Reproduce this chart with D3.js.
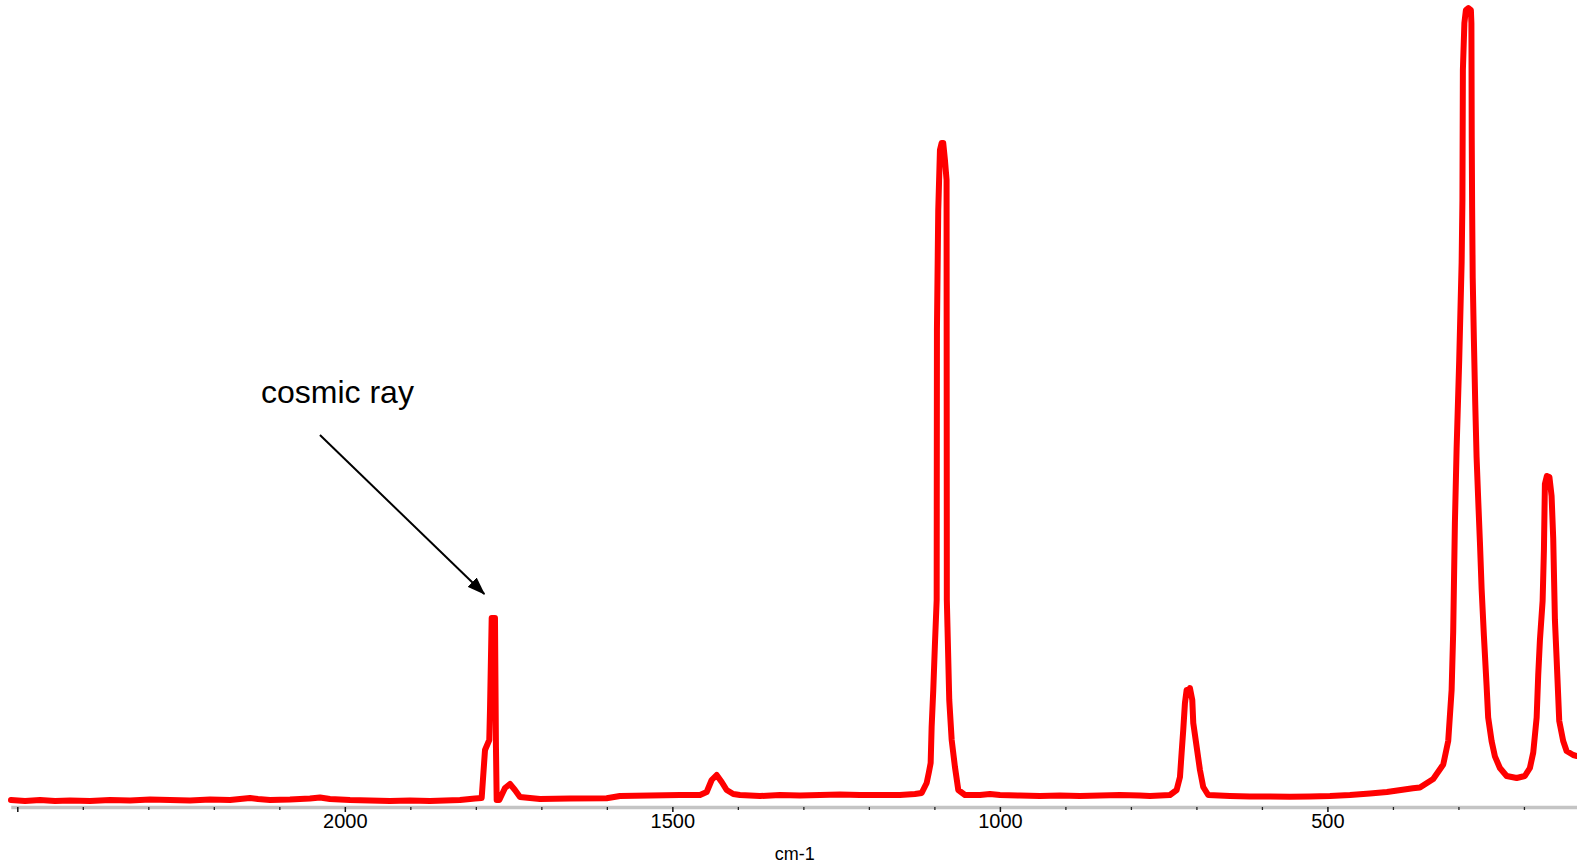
<!DOCTYPE html>
<html>
<head>
<meta charset="utf-8">
<script src="https://cdn.jsdelivr.net/npm/d3@7"></script>
<style>
  body { margin: 0; background: #fff; }
  svg { display: block; font-family: "Liberation Sans", Arial, sans-serif; }
</style>
</head>
<body>
<svg id="chart" width="1577" height="864"></svg>
<script>
// Raman spectrum (x in cm-1, y in arbitrary counts)
const wavenumber = [
  2509.6, 2488.2, 2465.3, 2442.4, 2419.5, 2389.0, 2358.5, 2327.9, 2297.4, 2266.9,
  2236.4, 2205.8, 2175.3, 2144.8, 2132.6, 2114.2, 2083.7, 2053.2, 2037.9, 2022.7,
  1992.1, 1961.6, 1931.1, 1900.5, 1870.0, 1847.1, 1824.2, 1801.3, 1791.1,
  // cosmic ray spike, 1750 and 1435 bands
  1786.0, 1779.5, 1778.4, 1775.8, 1770.8, 1769.3, 1768.2, 1764.2, 1755.5, 1747.9,
  1740.3, 1732.6, 1702.1, 1656.3, 1600.3, 1580.0, 1534.2, 1488.4, 1457.8, 1447.6,
  1440.0, 1432.4, 1424.7, 1417.1, 1407.0, 1396.8, 1366.3, 1335.7, 1305.2, 1274.7,
  1244.1, 1213.6, 1183.1, 1152.6, 1129.7, 1119.4,
  // 1086 band
  1111.8, 1108.3, 1105.7, 1104.2, 1101.7, 1099.1, 1096.5, 1096.1, 1094.1, 1091.5,
  1088.9, 1086.5, 1083.9, 1081.4, 1081.0, 1080.0, 1077.3, 1073.6, 1068.6, 1063.5,
  1053.3, 1030.4, 1015.2, 999.9, 969.4, 938.8, 908.3, 877.8, 847.3, 816.7,
  786.2, 770.9, 740.4,
  // 712 band
  730.2, 725.1, 722.6, 720.1, 717.5, 714.9, 712.1, 709.9, 706.3, 704.8,
  699.6, 694.6, 689.6, 682.0, 648.8, 618.3, 587.7, 557.2, 526.7, 496.1,
  465.6, 435.1,
  // 282 and 156 bands
  409.1, 369.5, 358.8, 338.5, 323.2, 315.6, 310.4, 308.0, 305.4, 302.8,
  298.8, 295.1, 293.9, 293.2, 290.9, 288.6, 284.8, 281.0, 280.2, 279.7,
  279.1, 278.2, 276.4, 274.4, 272.3, 269.8, 267.2, 264.6, 261.1, 257.0,
  254.6, 249.4, 244.3, 236.7, 226.4, 211.1, 198.6, 190.9, 185.8, 180.6,
  178.2, 175.6, 171.5, 169.5, 168.0, 165.0, 161.1, 157.8, 155.3, 152.7,
  150.1, 146.1, 140.1, 134.9, 124.8, 119.1
];
const intensity = [
  5, 4, 5, 4, 4.5, 4, 5, 4.5, 5.5, 5,
  4.5, 5.5, 5, 7, 6, 5, 5.5, 6.5, 7.5, 6,
  5, 4.5, 4, 4.5, 4, 4.5, 5, 6.5, 7,
  55, 65, 95, 187, 187, 58, 5, 5, 17, 21,
  15, 8, 6, 6.5, 6.7, 9, 9.5, 10, 10, 13,
  25, 30, 23, 15, 11, 10, 9, 10, 9.5, 10,
  10.5, 10, 10, 10, 11, 12,
  22, 33, 42, 78, 115, 162, 205, 475, 595, 655,
  662, 662, 645, 625, 205, 178, 105, 65, 38, 15,
  10, 10, 11, 10, 9.5, 9, 9.5, 9, 9.5, 10,
  9.5, 9, 10,
  15, 28, 52, 75, 102, 115, 113, 117, 105, 82,
  58, 35, 18, 10, 9, 8.5, 8.5, 8.3, 8.5, 9,
  10, 11.5,
  13, 16.7, 17.5, 26, 40.5, 64, 115, 173, 282, 356,
  445, 543, 605, 735, 782, 795, 797, 795, 782, 668,
  597, 527, 465, 403, 348, 305, 263, 216, 169, 119,
  87.5, 64, 48.6, 37, 29, 27, 29, 37, 52.5, 87.5,
  130, 165, 204, 255, 321, 329, 328, 309, 266.5, 185,
  146, 84, 64, 54, 50, 49
];

const majorTicks = [2500, 2000, 1500, 1000, 500];
const tickLabels = ["", "2000", "1500", "1000", "500"];
const minorTicks = [2400, 2300, 2200, 2100, 1900, 1800, 1700, 1600, 1400, 1300,
                    1200, 1100, 900, 800, 700, 600, 400, 300, 200];
const xTitle = "cm-1";
const noteText = "cosmic ray";

const svg = d3.select("#chart");

const x = d3.scaleLinear().domain([2510, 119]).range([10.75, 1577]);
const y = d3.scaleLinear().domain([0, 800]).range([805, 5]);
const axisY = 807;

// grey axis band with small ticks
let minorAxis = svg.append("g")
    .attr("transform", `translate(0,${axisY})`)
    .call(d3.axisBottom(x).tickValues(minorTicks).tickSize(3).tickSizeOuter(0).tickFormat(""));
minorAxis.select(".domain").attr("stroke", "#c4c4c4").attr("stroke-width", 3.5);
minorAxis.selectAll(".tick line").attr("stroke", "#222").attr("stroke-width", 1.3);

let majorAxis = svg.append("g")
    .attr("transform", `translate(0,${axisY})`)
    .call(d3.axisBottom(x).tickValues(majorTicks).tickSize(5).tickSizeOuter(0).tickPadding(2)
        .tickFormat((d, i) => tickLabels[i]));
majorAxis.select(".domain").remove();
majorAxis.selectAll(".tick line").attr("stroke", "#111").attr("stroke-width", 1.5);
majorAxis.selectAll(".tick text")
    .attr("fill", "#000")
    .style("font-size", "20px")
    .style("font-family", "'Liberation Sans', Arial, sans-serif");

svg.append("text")
    .attr("x", x(1313))
    .attr("y", 860)
    .attr("text-anchor", "middle")
    .style("font-size", "18px")
    .text(xTitle);

// spectrum
let line = d3.line()
    .x(d => x(d[0]))
    .y(d => y(d[1]));

svg.append("path")
    .datum(d3.zip(wavenumber, intensity))
    .attr("d", line)
    .attr("fill", "none")
    .attr("stroke", "#ff0000")
    .attr("stroke-width", 6)
    .attr("stroke-linejoin", "round")
    .attr("stroke-linecap", "round");

// annotation
svg.append("defs").append("marker")
    .attr("id", "head")
    .attr("markerUnits", "userSpaceOnUse")
    .attr("viewBox", "0 0 18 13")
    .attr("markerWidth", 18)
    .attr("markerHeight", 13)
    .attr("refX", 17)
    .attr("refY", 6.5)
    .attr("orient", "auto")
    .append("path")
    .attr("d", "M0,0L18,6.5L0,13Z")
    .attr("fill", "#000");

svg.append("line")
    .attr("x1", x(2038)).attr("y1", y(370))
    .attr("x2", x(1787)).attr("y2", y(211))
    .attr("stroke", "#000")
    .attr("stroke-width", 2)
    .attr("marker-end", "url(#head)");

svg.append("text")
    .attr("x", x(2128))
    .attr("y", y(402))
    .style("font-size", "32px")
    .attr("fill", "#000")
    .text(noteText);
</script>
</body>
</html>
